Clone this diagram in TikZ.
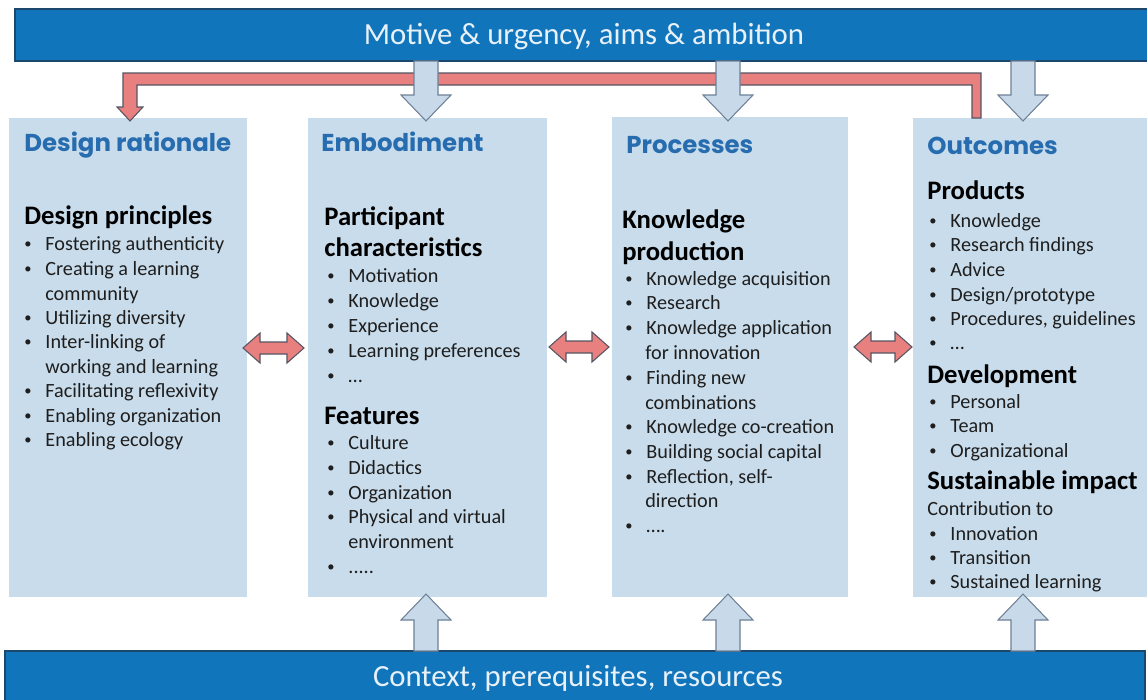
\documentclass[tikz,border=0pt]{standalone}
\usepackage{fontspec}
\setmainfont{Carlito}
\newfontfamily\hdfont{Poppins}
\usetikzlibrary{fit}
\definecolor{barblue}{RGB}{17,117,188}
\definecolor{barborder}{RGB}{28,72,110}
\definecolor{boxfill}{RGB}{201,220,235}
\definecolor{arrfill}{RGB}{200,218,234}
\definecolor{arrborder}{RGB}{110,128,150}
\definecolor{redfill}{RGB}{232,128,128}
\definecolor{redborder}{RGB}{85,85,100}
\definecolor{hdblue}{RGB}{38,108,175}
\definecolor{bartext}{RGB}{232,241,248}
\definecolor{txt}{RGB}{30,30,30}
\newcommand\bul{\makebox[12pt][l]{\raisebox{0.7pt}{\scalebox{0.72}{\textbullet}}}}
\newcommand\bitem[4]{\node[itm] (#1) at (#2,#3) {\bul#4};}
\newcommand\citem[4]{\node[itm] (#1) at (#2,#3) {#4};}
\newcommand\dnarr[3]{\draw[bluearrow] (#1-12,#2) -- (#1+12,#2) -- (#1+12,#3-26) -- (#1+25,#3-26) -- (#1,#3) -- (#1-25,#3-26) -- (#1-12,#3-26) -- cycle;}
\newcommand\uparr[3]{\draw[bluearrow] (#1-12,#2) -- (#1+12,#2) -- (#1+12,#3+26) -- (#1+25,#3+26) -- (#1,#3) -- (#1-25,#3+26) -- (#1-12,#3+26) -- cycle;}
\newcommand\dblarr[3]{\draw[redarrow] (#1,#3) -- (#1+17,#3-15) -- (#1+17,#3-6) -- (#2-17,#3-6) -- (#2-17,#3-15) -- (#2,#3) -- (#2-17,#3+15) -- (#2-17,#3+6) -- (#1+17,#3+6) -- (#1+17,#3+15) -- cycle;}
\begin{document}
\begin{tikzpicture}[x=0.02cm,y=-0.02cm,
  bar/.style={draw=barborder, fill=barblue, line width=1.2pt, inner sep=0pt},
  bartxt/.style={inner sep=0pt, text=bartext, font=\fontsize{17.5}{20}\selectfont},
  colbox/.style={fill=boxfill, draw=none, inner sep=0pt},
  bluearrow/.style={draw=arrborder, fill=arrfill, line width=0.6pt, line join=miter},
  redarrow/.style={draw=redborder, fill=redfill, line width=0.6pt, line join=miter},
  hd/.style={anchor=base west, inner sep=0pt, font=\hdfont\bfseries\fontsize{13.9}{16}\selectfont, text=hdblue},
  sub/.style={anchor=base west, inner sep=0pt, font=\bfseries\fontsize{15.2}{17.6}\selectfont, text=black},
  itm/.style={anchor=base west, inner sep=0pt, font=\fontsize{11.5}{13.9}\selectfont, text=txt}]
\useasboundingbox (0,0) rectangle (1147,700);
% boxes
\node[colbox, fit={(9,118) (247,597)}] (c1) {};
\node[colbox, fit={(308,118) (547,597)}] (c2) {};
\node[colbox, fit={(612,117) (848,597)}] (c3) {};
\node[colbox, fit={(913,118) (1147,597)}] (c4) {};
% bars
\node[bar, fit={(15,9) (1152,61)}] (top) {};
\node[bartxt] (toptxt) at (584,36) {Motive \& urgency, aims \& ambition};
\node[bar, fit={(5,651) (1145,706)}] (bot) {};
\node[bartxt] (bottxt) at (578,678) {Context, prerequisites, resources};
% red bracket
\draw[redarrow] (123,73) -- (981,73) -- (981,118) -- (972,118) -- (972,85) -- (137,85) -- (137,107) -- (143,107) -- (130,121) -- (117,107) -- (123,107) -- cycle;
% down arrows
\dnarr{426}{61}{121}
\dnarr{728}{61}{121}
\dnarr{1023}{61}{121}
% up arrows
\uparr{426}{651}{594}
\uparr{728}{651}{594}
\uparr{1023}{651}{594}
% double arrows
\dblarr{243}{304}{348}
\dblarr{549}{609}{347}
\dblarr{854}{912}{347}
% column 1
\node[hd] (h1) at (24,151) {Design rationale};
\node[sub] (s1) at (24,224) {Design principles};
\bitem{a1}{24}{250}{Fostering authenticity}
\bitem{a2}{24}{275}{Creating a learning}
\citem{a3}{45}{300}{community}
\bitem{a4}{24}{324}{Utilizing diversity}
\bitem{a5}{24}{348}{Inter-linking of}
\citem{a6}{45}{373}{working and learning}
\bitem{a7}{24}{397}{Facilitating reflexivity}
\bitem{a8}{24}{422}{Enabling organization}
\bitem{a9}{24}{446}{Enabling ecology}
% column 2
\node[hd] (h2) at (321,151) {Embodiment};
\node[sub] (s2a) at (324,225) {Participant};
\node[sub] (s2b) at (324,256) {characteristics};
\bitem{b1}{327}{282}{Motivation}
\bitem{b2}{327}{307}{Knowledge}
\bitem{b3}{327}{332}{Experience}
\bitem{b4}{327}{357}{Learning preferences}
\bitem{b5}{327}{382}{…}
\node[sub] (s2c) at (324,424) {Features};
\bitem{b6}{327}{449}{Culture}
\bitem{b7}{327}{474}{Didactics}
\bitem{b8}{327}{499}{Organization}
\bitem{b9}{327}{523}{Physical and virtual}
\citem{b10}{348}{548}{environment}
\bitem{b11}{327}{573}{.....}
% column 3
\node[hd] (h3) at (626,153) {Processes};
\node[sub] (s3a) at (622,228) {Knowledge};
\node[sub] (s3b) at (622,260) {production};
\bitem{p1}{625}{285}{Knowledge acquisition}
\bitem{p2}{625}{309}{Research}
\bitem{p3}{625}{334}{Knowledge application}
\citem{p4}{645}{359}{for innovation}
\bitem{p5}{625}{384}{Finding new}
\citem{p6}{645}{409}{combinations}
\bitem{p7}{625}{433}{Knowledge co-creation}
\bitem{p8}{625}{458}{Building social capital}
\bitem{p9}{625}{483}{Reflection, self-}
\citem{p10}{645}{507}{direction}
\bitem{p11}{625}{532}{….}
% column 4
\node[hd] (h4) at (927,154) {Outcomes};
\node[sub] (s4a) at (927,199) {Products};
\bitem{o1}{929}{227}{Knowledge}
\bitem{o2}{929}{251}{Research findings}
\bitem{o3}{929}{276}{Advice}
\bitem{o4}{929}{301}{Design/prototype}
\bitem{o5}{929}{325}{Procedures, guidelines}
\bitem{o6}{929}{349}{…}
\node[sub] (s4b) at (927,383) {Development};
\bitem{o7}{929}{408}{Personal}
\bitem{o8}{929}{432}{Team}
\bitem{o9}{929}{457}{Organizational}
\node[sub] (s4c) at (927,489) {Sustainable impact};
\citem{o10}{927}{515}{Contribution to}
\bitem{o11}{929}{540}{Innovation}
\bitem{o12}{929}{564}{Transition}
\bitem{o13}{929}{588}{Sustained learning}
\end{tikzpicture}
\end{document}
